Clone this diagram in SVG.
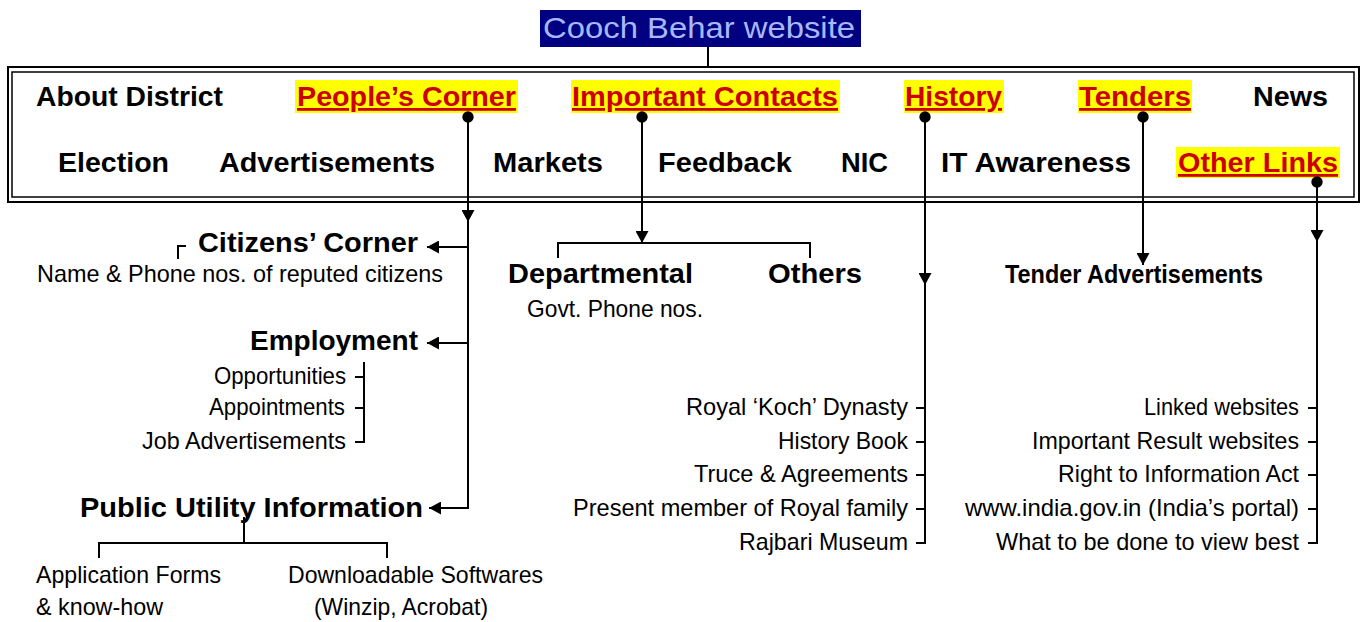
<svg xmlns="http://www.w3.org/2000/svg" width="1363" height="622" viewBox="0 0 1363 622">
<style>
text{font-family:"Liberation Sans",Arial,sans-serif;fill:#000}
.m{font-size:28px;font-weight:bold}
.h{fill:#cc0000;text-decoration:underline}
.s{font-size:24px}
.hl{fill:#ffff00}
.c{fill:none;stroke:#000;stroke-width:2}
</style>
<defs>
<marker id="arr" markerUnits="userSpaceOnUse" markerWidth="13" markerHeight="13" refX="12" refY="6.5" orient="auto"><path d="M0,0 L12,6.5 L0,13 z" fill="#000"/></marker>
<marker id="dot" markerUnits="userSpaceOnUse" markerWidth="14" markerHeight="14" refX="7" refY="7"><circle cx="7" cy="7" r="5.7" fill="#000"/></marker>
</defs>
<rect width="1363" height="622" fill="#fff"/>

<g id="title">
<rect x="540" y="10" width="321" height="37" fill="#000080"/>
<text x="543" y="38" font-size="29" textLength="312" lengthAdjust="spacingAndGlyphs" style="fill:#a8b8ff">Cooch Behar website</text>
</g>

<g id="menu">
<rect x="8" y="67" width="1351" height="135" fill="none" stroke="#000" stroke-width="2"/>
<rect x="12" y="72" width="1342" height="125" fill="none" stroke="#000" stroke-width="1.5"/>
<rect class="hl" x="295" y="80" width="223" height="33"/>
<rect class="hl" x="571" y="80" width="269" height="33"/>
<rect class="hl" x="904" y="80" width="100" height="33"/>
<rect class="hl" x="1078" y="80" width="114" height="33"/>
<rect class="hl" x="1176" y="147" width="164" height="31"/>
<text class="m" x="36" y="106" textLength="187" lengthAdjust="spacingAndGlyphs">About District</text>
<text class="m h" x="297" y="106" textLength="219" lengthAdjust="spacingAndGlyphs">People’s Corner</text>
<text class="m h" x="572" y="106" textLength="266" lengthAdjust="spacingAndGlyphs">Important Contacts</text>
<text class="m h" x="905" y="106" textLength="97" lengthAdjust="spacingAndGlyphs">History</text>
<text class="m h" x="1079" y="106" textLength="112" lengthAdjust="spacingAndGlyphs">Tenders</text>
<text class="m" x="1253" y="106" textLength="75" lengthAdjust="spacingAndGlyphs">News</text>
<text class="m" x="58" y="172" textLength="111" lengthAdjust="spacingAndGlyphs">Election</text>
<text class="m" x="219" y="172" textLength="216" lengthAdjust="spacingAndGlyphs">Advertisements</text>
<text class="m" x="493" y="172" textLength="110" lengthAdjust="spacingAndGlyphs">Markets</text>
<text class="m" x="658" y="172" textLength="134" lengthAdjust="spacingAndGlyphs">Feedback</text>
<text class="m" x="841" y="172" textLength="47" lengthAdjust="spacingAndGlyphs">NIC</text>
<text class="m" x="941" y="172" textLength="190" lengthAdjust="spacingAndGlyphs">IT Awareness</text>
<text class="m h" x="1178" y="172" textLength="160" lengthAdjust="spacingAndGlyphs">Other Links</text>
</g>

<g id="citizens">
<text class="m" x="198" y="252" textLength="220" lengthAdjust="spacingAndGlyphs">Citizens’ Corner</text>
<text class="s" x="37" y="282" textLength="406" lengthAdjust="spacingAndGlyphs">Name &amp; Phone nos. of reputed citizens</text>
</g>
<g id="employment">
<text class="m" x="250" y="350" textLength="168" lengthAdjust="spacingAndGlyphs">Employment</text>
<text class="s" x="214" y="384" textLength="132" lengthAdjust="spacingAndGlyphs">Opportunities</text>
<text class="s" x="209" y="415" textLength="136" lengthAdjust="spacingAndGlyphs">Appointments</text>
<text class="s" x="142" y="449" textLength="204" lengthAdjust="spacingAndGlyphs">Job Advertisements</text>
</g>
<g id="public-utility">
<text class="m" x="80" y="517" textLength="343" lengthAdjust="spacingAndGlyphs">Public Utility Information</text>
<text class="s" x="36" y="583" textLength="185" lengthAdjust="spacingAndGlyphs">Application Forms</text>
<text class="s" x="36" y="615" textLength="127" lengthAdjust="spacingAndGlyphs">&amp; know-how</text>
<text class="s" x="288" y="583" textLength="255" lengthAdjust="spacingAndGlyphs">Downloadable Softwares</text>
<text class="s" x="314" y="615" textLength="174" lengthAdjust="spacingAndGlyphs">(Winzip, Acrobat)</text>
</g>
<g id="contacts">
<text class="m" x="508" y="283" textLength="185" lengthAdjust="spacingAndGlyphs">Departmental</text>
<text class="s" x="527" y="317" textLength="176" lengthAdjust="spacingAndGlyphs">Govt. Phone nos.</text>
<text class="m" x="768" y="283" textLength="94" lengthAdjust="spacingAndGlyphs">Others</text>
</g>
<g id="history">
<text class="s" x="686" y="415" textLength="222" lengthAdjust="spacingAndGlyphs">Royal ‘Koch’ Dynasty</text>
<text class="s" x="778" y="449" textLength="130" lengthAdjust="spacingAndGlyphs">History Book</text>
<text class="s" x="694" y="482" textLength="214" lengthAdjust="spacingAndGlyphs">Truce &amp; Agreements</text>
<text class="s" x="573" y="516" textLength="335" lengthAdjust="spacingAndGlyphs">Present member of Royal family</text>
<text class="s" x="739" y="550" textLength="169" lengthAdjust="spacingAndGlyphs">Rajbari Museum</text>
</g>
<g id="tenders">
<text class="m" x="1005" y="283" textLength="258" lengthAdjust="spacingAndGlyphs" style="font-size:26px">Tender Advertisements</text>
</g>
<g id="other-links">
<text class="s" x="1144" y="415" textLength="155" lengthAdjust="spacingAndGlyphs">Linked websites</text>
<text class="s" x="1032" y="449" textLength="267" lengthAdjust="spacingAndGlyphs">Important Result websites</text>
<text class="s" x="1058" y="482" textLength="241" lengthAdjust="spacingAndGlyphs">Right to Information Act</text>
<text class="s" x="965" y="516" textLength="334" lengthAdjust="spacingAndGlyphs">www.india.gov.in (India’s portal)</text>
<text class="s" x="996" y="550" textLength="303" lengthAdjust="spacingAndGlyphs">What to be done to view best</text>
</g>

<g id="connectors">
<path class="c" d="M708,47 V67"/>
<path class="c" d="M468,117 V222" marker-start="url(#dot)" marker-end="url(#arr)"/>
<path class="c" d="M468,222 V508 H429" marker-end="url(#arr)"/>
<path class="c" d="M468,247 H427" marker-end="url(#arr)"/>
<path class="c" d="M468,343 H427" marker-end="url(#arr)"/>
<path class="c" d="M178,259 V246 H186"/>
<path class="c" d="M364,362 V442 H355 M355,377 H364 M355,408 H364"/>
<path class="c" d="M244,517 V543 M99,558 V543 H387 V558"/>
<path class="c" d="M642,117 V243" marker-start="url(#dot)" marker-end="url(#arr)"/>
<path class="c" d="M558,258 V243 H810 V258"/>
<path class="c" d="M925,117 V285" marker-start="url(#dot)" marker-end="url(#arr)"/>
<path class="c" d="M925,285 V543 H916 M916,408 H925 M916,442 H925 M916,475 H925 M916,509 H925"/>
<path class="c" d="M1143,117 V265" marker-start="url(#dot)" marker-end="url(#arr)"/>
<path class="c" d="M1317,182 V242" marker-start="url(#dot)" marker-end="url(#arr)"/>
<path class="c" d="M1317,242 V543 H1308 M1308,408 H1317 M1308,442 H1317 M1308,475 H1317 M1308,509 H1317"/>
</g>
</svg>
